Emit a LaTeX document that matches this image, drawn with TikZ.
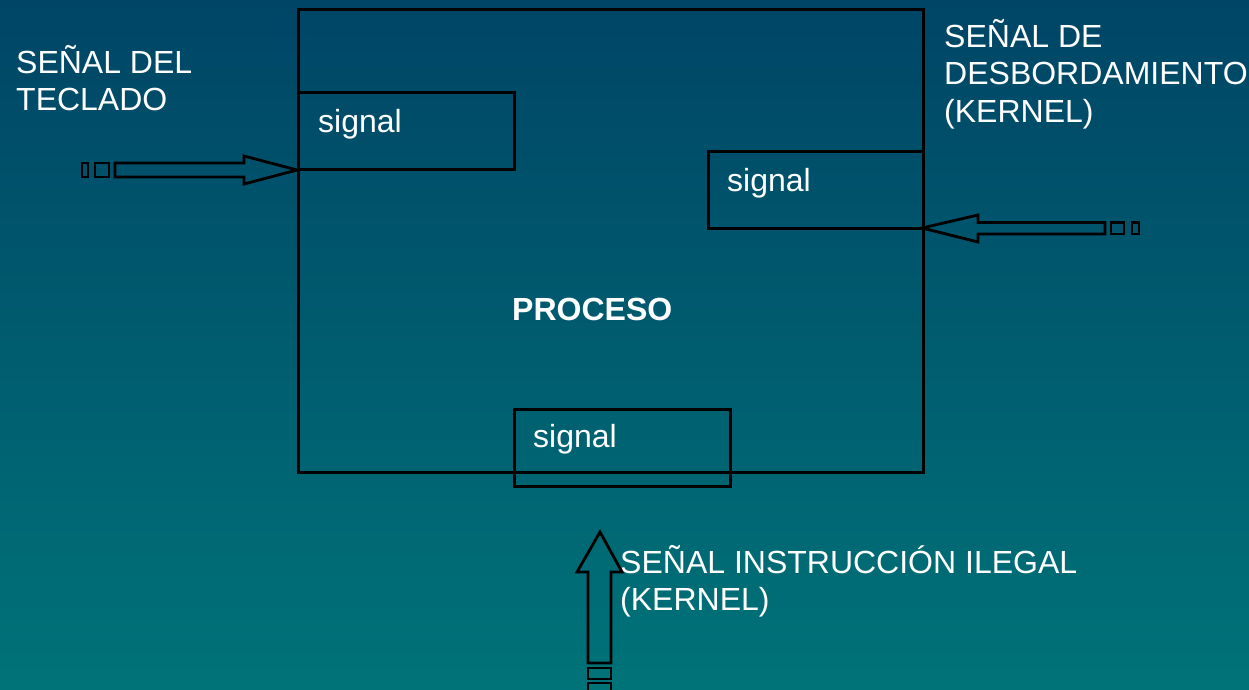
\documentclass[tikz,border=0pt]{standalone}
\usepackage{fontspec}
\setmainfont{Liberation Sans}
\begin{document}
\begin{tikzpicture}[x=1pt,y=-1pt,
  sigbox/.style={draw=black,line width=2.8pt,anchor=north west,inner sep=0pt},
  txt/.style={text=white,font=\fontsize{32}{37.5}\selectfont,inner sep=0pt},
  blockarrow/.style={draw=black,line width=2.8pt,line join=miter}]
  % background
  \shade[top color={rgb,255:red,0;green,69;blue,102},bottom color={rgb,255:red,0;green,115;blue,120}]
    (0,0) rectangle (1249,689);
  \useasboundingbox (0,0) rectangle (1249,689);

  % process frame
  \node[sigbox,minimum width=625pt,minimum height=463pt] (proc) at (297,8) {};
  \node[txt,anchor=base west,font=\fontsize{32}{37.5}\selectfont\bfseries] (proclbl) at (512,320) {PROCESO};

  % signal handlers
  \node[sigbox,minimum width=216pt,minimum height=77pt] (s1) at (297,91) {};
  \node[txt,anchor=base west] (s1t) at (318,132) {signal};
  \node[sigbox,minimum width=215pt,minimum height=77pt] (s2) at (707,150) {};
  \node[txt,anchor=base west] (s2t) at (727,191) {signal};
  \node[sigbox,minimum width=216pt,minimum height=77pt] (s3) at (513,408) {};
  \node[txt,anchor=base west] (s3t) at (533,447) {signal};

  % labels (anchored at the baseline of their last line)
  \node[txt,anchor=base west,align=left] (kbd) at (16,110.5) {SEÑAL DEL\\TECLADO};
  \node[txt,anchor=base west,align=left] (ovf) at (944,122) {SEÑAL DE\\DESBORDAMIENTO\\(KERNEL)};
  \node[txt,anchor=base west,align=left] (ill) at (620,610.5) {SEÑAL INSTRUCCIÓN ILEGAL\\(KERNEL)};

  % keyboard signal arrow
  \coordinate (t1) at (297,170);
  \draw[blockarrow] (t1) -- (244,156) -- (244,163) -- (115,163) -- (115,177) -- (244,177) -- (244,184) -- cycle;
  \draw[blockarrow] (95,163) rectangle (109,177);
  \draw[blockarrow] (82,163) rectangle (88,177);

  % overflow signal arrow
  \coordinate (t2) at (922,228);
  \draw[blockarrow] (t2) -- (978,215) -- (978,222.5) -- (1105,222.5) -- (1105,234) -- (978,234) -- (978,242) -- cycle;
  \draw[blockarrow] (1111,222.5) rectangle (1124,234);
  \draw[blockarrow] (1132,222.5) rectangle (1139,234);

  % illegal instruction arrow
  \coordinate (t3) at (600,532);
  \draw[blockarrow] (t3) -- (622,572) -- (611,572) -- (611,663) -- (588,663) -- (588,572) -- (577,572) -- cycle;
  \draw[blockarrow] (588,668) rectangle (611,679);
  \draw[blockarrow] (588,683) rectangle (611,694);
\end{tikzpicture}
\end{document}
